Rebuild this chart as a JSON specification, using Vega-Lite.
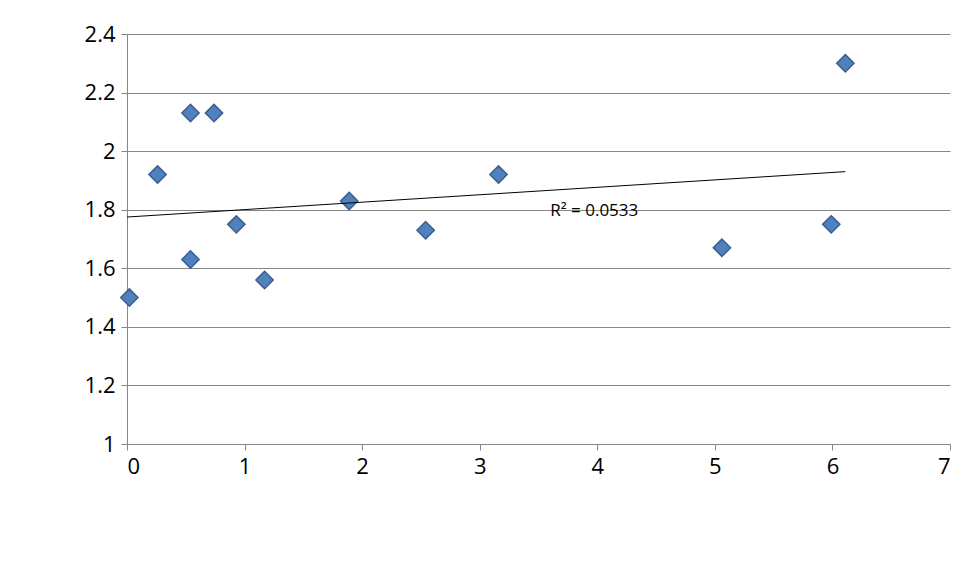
{
  "$schema": "https://vega.github.io/schema/vega-lite/v6.json",
  "width": 823,
  "height": 410,
  "autosize": "none",
  "padding": {"left": 127, "top": 34, "right": 10, "bottom": 137},
  "background": "white",
  "config": {
    "view": {"stroke": null},
    "axis": {"labelFont": "Open Sans", "labelFontSize": 22, "labelColor": "#000", "domainColor": "#868686", "tickColor": "#868686", "gridColor": "#868686", "title": null}
  },
  "layer": [
    {
      "data": {"values": [
        {"x": 0.02, "y": 1.5}, {"x": 0.26, "y": 1.92}, {"x": 0.54, "y": 2.13},
        {"x": 0.54, "y": 1.63}, {"x": 0.74, "y": 2.13}, {"x": 0.93, "y": 1.75},
        {"x": 1.17, "y": 1.56}, {"x": 1.89, "y": 1.83}, {"x": 2.54, "y": 1.73},
        {"x": 3.16, "y": 1.92}, {"x": 5.06, "y": 1.67}, {"x": 5.99, "y": 1.75},
        {"x": 6.11, "y": 2.3}
      ]},
      "mark": {"type": "point", "shape": "diamond", "filled": true, "size": 300, "fill": "#4F81BD", "stroke": "#3A5F8C", "strokeWidth": 1.5, "opacity": 1},
      "encoding": {
        "x": {"field": "x", "type": "quantitative", "scale": {"domain": [0, 7], "nice": false},
          "axis": {"grid": false, "tickCount": 7, "tickSize": 6, "labelPadding": 6}},
        "y": {"field": "y", "type": "quantitative", "scale": {"domain": [1, 2.4], "nice": false},
          "axis": {"grid": true, "tickCount": 7, "tickSize": 6, "labelPadding": 6, "format": "~g"}}
      }
    },
    {
      "data": {"values": [{"x": 0, "y": 1.775}, {"x": 6.11, "y": 1.93}]},
      "mark": {"type": "line", "color": "#000", "strokeWidth": 1},
      "encoding": {
        "x": {"field": "x", "type": "quantitative"},
        "y": {"field": "y", "type": "quantitative"}
      }
    },
    {
      "data": {"values": [{"x": 3.6, "y": 1.795, "t": "R² = 0.0533"}]},
      "mark": {"type": "text", "align": "left", "font": "Open Sans", "fontSize": 17, "color": "#000"},
      "encoding": {
        "x": {"field": "x", "type": "quantitative"},
        "y": {"field": "y", "type": "quantitative"},
        "text": {"field": "t"}
      }
    }
  ]
}
